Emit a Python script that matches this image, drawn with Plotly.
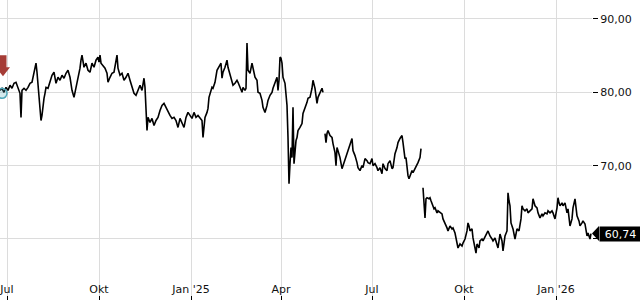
import plotly.graph_objects as go

# ---------------- data (closing prices) ----------------
dates_2024 = [
    "2024-06-24", "2024-06-26", "2024-06-28", "2024-06-30",
    "2024-07-02", "2024-07-04", "2024-07-06", "2024-07-08", "2024-07-10", "2024-07-12", "2024-07-14", "2024-07-15",
    "2024-07-16", "2024-07-18", "2024-07-20", "2024-07-22", "2024-07-24", "2024-07-26", "2024-07-28", "2024-07-29",
    "2024-07-30", "2024-07-31",
    "2024-08-01", "2024-08-02", "2024-08-03", "2024-08-04", "2024-08-05", "2024-08-06", "2024-08-07", "2024-08-08",
    "2024-08-09", "2024-08-11", "2024-08-13", "2024-08-15", "2024-08-17", "2024-08-19", "2024-08-21", "2024-08-23",
    "2024-08-25", "2024-08-27", "2024-08-29", "2024-08-31",
    "2024-09-02", "2024-09-04", "2024-09-06", "2024-09-08", "2024-09-10", "2024-09-12", "2024-09-13", "2024-09-14",
    "2024-09-16", "2024-09-18", "2024-09-20", "2024-09-22", "2024-09-24", "2024-09-26", "2024-09-28", "2024-09-30",
    "2024-10-01", "2024-10-02", "2024-10-03", "2024-10-05", "2024-10-07", "2024-10-09", "2024-10-10", "2024-10-12",
    "2024-10-14", "2024-10-16", "2024-10-18", "2024-10-19", "2024-10-20", "2024-10-22", "2024-10-24", "2024-10-26",
    "2024-10-28", "2024-10-30",
    "2024-11-01", "2024-11-03", "2024-11-05", "2024-11-07", "2024-11-09", "2024-11-11", "2024-11-13", "2024-11-15",
    "2024-11-16", "2024-11-17", "2024-11-18", "2024-11-19", "2024-11-21", "2024-11-23", "2024-11-25", "2024-11-27",
    "2024-11-29",
    "2024-12-01", "2024-12-03", "2024-12-05", "2024-12-07", "2024-12-09", "2024-12-11", "2024-12-13", "2024-12-15",
    "2024-12-17", "2024-12-19", "2024-12-21", "2024-12-23", "2024-12-25", "2024-12-27", "2024-12-29", "2024-12-31",
]
close_2024 = [
    80.27, 80.55, 80.00, 80.68,
    80.27, 80.96, 80.55, 81.23, 81.37, 80.68, 79.86, 76.58,
    80.27, 80.55, 80.27, 80.68, 81.23, 81.37, 82.74, 83.70,
    83.97, 82.74,
    81.23, 79.86, 77.26, 76.16, 76.85, 78.22, 79.18, 79.86,
    80.68, 80.55, 81.64, 82.33, 82.74, 81.23, 82.05, 81.64,
    82.33, 81.92, 82.60, 83.01,
    82.05, 80.27, 79.32, 80.55, 82.05, 83.29, 84.38, 85.07,
    83.42, 83.97, 83.01, 82.74, 83.97, 83.42, 84.38, 84.79,
    84.11, 85.07, 83.97, 83.70, 83.29, 82.60, 81.37, 82.05,
    82.60, 82.74, 84.11, 85.07, 83.29, 82.33, 82.60, 81.64,
    82.05, 82.60,
    81.64, 80.68, 79.86, 79.59, 80.27, 80.96, 80.27, 81.92,
    80.68, 77.26, 74.79, 76.58, 75.89, 76.44, 75.48, 76.16,
    76.58,
    77.53, 78.22, 78.49, 77.95, 77.26, 76.85, 76.44, 76.58,
    76.16, 75.21, 76.44, 75.89, 75.21, 76.58, 77.26, 76.85,
]

dates_2025a = [
    "2025-01-02", "2025-01-04", "2025-01-06", "2025-01-08", "2025-01-10", "2025-01-12", "2025-01-13", "2025-01-14",
    "2025-01-15", "2025-01-17", "2025-01-18", "2025-01-19", "2025-01-21", "2025-01-22", "2025-01-23", "2025-01-25",
    "2025-01-27", "2025-01-28", "2025-01-30", "2025-01-31",
    "2025-02-01", "2025-02-02", "2025-02-04", "2025-02-06", "2025-02-07", "2025-02-09", "2025-02-11", "2025-02-12",
    "2025-02-14", "2025-02-16", "2025-02-17", "2025-02-19", "2025-02-21", "2025-02-22", "2025-02-24", "2025-02-25",
    "2025-02-26", "2025-02-27",
    "2025-03-01", "2025-03-03", "2025-03-04", "2025-03-06", "2025-03-08", "2025-03-09", "2025-03-11", "2025-03-13",
    "2025-03-14", "2025-03-16", "2025-03-18", "2025-03-19", "2025-03-21", "2025-03-23", "2025-03-24", "2025-03-26",
    "2025-03-28", "2025-03-29", "2025-03-30", "2025-03-31",
    "2025-04-01", "2025-04-02", "2025-04-03", "2025-04-05", "2025-04-06", "2025-04-07", "2025-04-08", "2025-04-09",
    "2025-04-10", "2025-04-11", "2025-04-12", "2025-04-13", "2025-04-14", "2025-04-15", "2025-04-16", "2025-04-17",
    "2025-04-18", "2025-04-20", "2025-04-22", "2025-04-23", "2025-04-25", "2025-04-27", "2025-04-28", "2025-04-30",
    "2025-05-02", "2025-05-03", "2025-05-05", "2025-05-07", "2025-05-08", "2025-05-10", "2025-05-12", "2025-05-13",
]
close_2025a = [
    76.44, 77.26, 76.58, 76.85, 76.44, 76.16, 73.84, 75.48,
    76.58, 77.26, 77.81, 79.32, 80.27, 80.68, 80.55, 81.37,
    83.01, 83.29, 83.70, 83.97,
    81.92, 82.74, 83.42, 84.38, 83.42, 82.33, 81.64, 80.96,
    81.23, 81.64, 81.37, 80.68, 80.00, 80.68, 80.27, 80.55,
    86.71, 83.01,
    82.60, 83.97, 83.42, 82.05, 81.64, 80.00, 79.86, 78.90,
    77.95, 77.26, 78.22, 78.90, 79.59, 80.00, 80.55, 81.23,
    82.05, 80.27, 81.64, 84.79,
    84.66, 83.97, 82.05, 81.23, 79.32, 78.22, 73.84, 67.53,
    70.27, 72.47, 71.10, 77.95, 70.27, 72.05, 73.42, 73.84,
    74.79, 75.21, 75.75, 77.12, 77.81, 78.63, 79.18, 79.32,
    80.55, 81.64, 80.55, 78.49, 79.32, 80.00, 80.55, 80.00,
]

dates_2025b = [
    "2025-05-15", "2025-05-16", "2025-05-17", "2025-05-18", "2025-05-20", "2025-05-22", "2025-05-23", "2025-05-25",
    "2025-05-26", "2025-05-27", "2025-05-28", "2025-05-30",
    "2025-06-01", "2025-06-02", "2025-06-04", "2025-06-06", "2025-06-07", "2025-06-09", "2025-06-11", "2025-06-12",
    "2025-06-14", "2025-06-16", "2025-06-17", "2025-06-19", "2025-06-21", "2025-06-22", "2025-06-24", "2025-06-26",
    "2025-06-27", "2025-06-29",
    "2025-07-01", "2025-07-02", "2025-07-04", "2025-07-06", "2025-07-07", "2025-07-09", "2025-07-11", "2025-07-12",
    "2025-07-14", "2025-07-16", "2025-07-17", "2025-07-19", "2025-07-21", "2025-07-22", "2025-07-24", "2025-07-26",
    "2025-07-27", "2025-07-29", "2025-07-31",
    "2025-08-01", "2025-08-02", "2025-08-03", "2025-08-04", "2025-08-05", "2025-08-06", "2025-08-07", "2025-08-09",
    "2025-08-10", "2025-08-11", "2025-08-13", "2025-08-15", "2025-08-16", "2025-08-18", "2025-08-19",
]
close_2025b = [
    74.38, 73.15, 74.38, 74.79, 74.11, 73.84, 73.01, 71.78,
    70.00, 72.47, 72.05, 71.10,
    69.59, 70.00, 70.96, 71.64, 72.33, 73.01, 73.70, 72.05,
    71.37, 70.41, 69.73, 69.32, 70.00, 69.73, 70.96, 70.68,
    70.41, 70.27,
    70.96, 70.00, 70.27, 69.73, 69.32, 69.73, 68.90, 70.27,
    69.59, 69.32, 70.27, 70.68, 69.59, 69.73, 71.64, 72.47,
    73.15, 73.70, 74.11,
    73.15, 72.05, 70.96, 71.10, 69.59, 68.63, 68.22, 69.04,
    69.32, 69.04, 69.59, 70.00, 70.41, 71.10, 72.33,
]

dates_2025c = [
    "2025-08-21", "2025-08-22", "2025-08-23", "2025-08-24", "2025-08-25", "2025-08-27", "2025-08-28", "2025-08-29",
    "2025-08-31",
    "2025-09-01", "2025-09-02", "2025-09-04", "2025-09-05", "2025-09-07", "2025-09-09", "2025-09-10", "2025-09-12",
    "2025-09-14", "2025-09-15", "2025-09-17", "2025-09-19", "2025-09-20", "2025-09-22", "2025-09-24", "2025-09-25",
    "2025-09-27", "2025-09-29", "2025-09-30",
    "2025-10-02", "2025-10-04", "2025-10-05", "2025-10-06", "2025-10-07", "2025-10-09", "2025-10-10", "2025-10-12",
    "2025-10-13", "2025-10-14", "2025-10-16", "2025-10-17", "2025-10-19", "2025-10-20", "2025-10-22", "2025-10-24",
    "2025-10-25", "2025-10-27", "2025-10-29", "2025-10-30",
    "2025-11-01", "2025-11-03", "2025-11-04", "2025-11-06", "2025-11-08", "2025-11-09", "2025-11-11", "2025-11-13",
    "2025-11-14", "2025-11-15", "2025-11-16", "2025-11-17", "2025-11-18", "2025-11-19", "2025-11-21", "2025-11-22",
    "2025-11-23", "2025-11-25", "2025-11-26", "2025-11-27", "2025-11-28", "2025-11-29",
    "2025-12-01", "2025-12-03", "2025-12-04", "2025-12-06", "2025-12-08", "2025-12-09", "2025-12-11", "2025-12-13",
    "2025-12-14", "2025-12-16", "2025-12-18", "2025-12-19", "2025-12-21", "2025-12-23", "2025-12-24", "2025-12-26",
    "2025-12-28", "2025-12-29", "2025-12-31",
    "2026-01-02", "2026-01-03", "2026-01-04", "2026-01-05", "2026-01-07", "2026-01-08", "2026-01-10", "2026-01-12",
    "2026-01-13", "2026-01-15", "2026-01-17", "2026-01-18", "2026-01-20", "2026-01-21", "2026-01-22", "2026-01-24",
    "2026-01-25", "2026-01-27", "2026-01-28", "2026-01-30",
    "2026-02-01", "2026-02-02", "2026-02-04", "2026-02-05",
]
close_2025c = [
    66.99, 65.21, 62.88, 65.48, 65.62, 65.48, 65.62, 65.21,
    64.52,
    64.11, 64.25, 63.56, 63.84, 63.56, 63.42, 62.74, 62.19,
    61.51, 61.10, 61.78, 61.37, 61.51, 60.82, 59.73, 58.77,
    59.32, 59.04, 59.45,
    60.00, 61.10, 62.19, 61.78, 61.10, 61.37, 60.14, 58.77,
    58.08, 59.32, 58.77, 59.73, 60.00, 59.73, 60.41, 60.82,
    61.10, 60.41, 60.00, 59.73,
    60.14, 59.32, 58.77, 60.68, 59.73, 58.36, 60.41, 61.10,
    66.30, 65.21, 64.52, 62.19, 61.78, 61.37, 60.00, 60.82,
    61.37, 61.10, 62.05, 62.74, 64.52, 64.11,
    63.84, 64.11, 63.56, 63.84, 64.11, 65.48, 64.52, 64.25,
    63.56, 62.88, 63.42, 63.15, 63.56, 63.42, 63.84, 63.56,
    63.84, 63.56, 62.74,
    64.25, 65.62, 64.93, 64.52, 64.93, 64.52, 64.93, 63.56,
    64.11, 61.78, 62.74, 64.25, 65.48, 63.84, 63.15, 62.47,
    61.78, 62.19, 62.47, 62.05,
    60.41, 60.82, 60.00, 60.74,
]

last_price = 60.74
last_label = "60,74"

x_tick_dates = ["2024-07-01", "2024-10-01", "2025-01-01", "2025-04-01",
                "2025-07-01", "2025-10-01", "2026-01-01"]
x_tick_labels = ["Jul", "Okt", "Jan '25", "Apr", "Jul", "Okt", "Jan '26"]
y_tick_values = [60, 70, 80, 90]
y_tick_labels = ["", "70,00", "80,00", "90,00"]

event_date = "2024-06-27"
event_price = 79.86

# ---------------- figure ----------------
segments = [
    (dates_2024 + dates_2025a, close_2024 + close_2025a),
    (dates_2025b, close_2025b),
    (dates_2025c, close_2025c),
]

fig = go.Figure()
for xs, ys in segments:
    fig.add_trace(go.Scatter(
        x=xs, y=ys, mode="lines",
        line=dict(color="#000000", width=1.6),
        hoverinfo="skip", showlegend=False,
    ))

FONT = "DejaVu Sans, Verdana, sans-serif"
GRID = "#dcdcdc"

fig.update_layout(
    width=640, height=300,
    margin=dict(l=0, r=48, t=0, b=0),
    paper_bgcolor="white", plot_bgcolor="white",
    font=dict(family=FONT, size=11, color="#111111"),
    showlegend=False,
    separators=",.",
)

fig.update_xaxes(
    type="date",
    range=["2024-06-24", "2026-02-06"],
    tickmode="array", tickvals=x_tick_dates, ticktext=x_tick_labels,
    ticks="inside", ticklen=4, tickwidth=1, tickcolor="#000000",
    ticklabelposition="inside", ticklabeloverflow="allow",
    tickfont=dict(family=FONT, size=11, color="#111111"),
    showgrid=True, gridcolor=GRID, gridwidth=1,
    zeroline=False, showline=False, fixedrange=True,
)

fig.update_yaxes(
    side="right",
    range=[51.68, 92.59],
    tickmode="array", tickvals=y_tick_values, ticktext=y_tick_labels,
    ticks="outside", ticklen=5, tickwidth=1, tickcolor="#000000",
    tickfont=dict(family=FONT, size=11, color="#111111"),
    showgrid=True, gridcolor=GRID, gridwidth=1,
    zeroline=False, showline=False, fixedrange=True,
)

shapes = [
    # white band behind the date labels (hides grid there)
    dict(type="rect", xref="paper", yref="paper", x0=0, x1=1, y0=0, y1=0.064,
         fillcolor="white", line=dict(width=0), layer="between"),
    # event marker: red down arrow
    dict(type="path", xref="x", yref="y", xsizemode="pixel", xanchor=event_date,
         path="M-3.5,85.05 L3.5,85.05 L3.5,83.41 L7,83.41 L0,82.18 L-7,83.41 L-3.5,83.41 Z",
         fillcolor="#a53c36", line=dict(width=0), layer="above"),
    # event marker: teal circle on the line
    dict(type="circle", xref="x", yref="y", xsizemode="pixel", ysizemode="pixel",
         xanchor="2024-06-26", yanchor=event_price, x0=-5, x1=5, y0=-5, y1=5,
         fillcolor="rgba(80,168,185,0.25)", line=dict(color="#4fa6b8", width=1.5),
         layer="above"),
    # pointer of the last-price label
    dict(type="path", xref="paper", yref="y", xsizemode="pixel", ysizemode="pixel",
         xanchor=1, yanchor=last_price, path="M0,0 L7,-7.5 L7,7.5 Z",
         fillcolor="#000000", line=dict(width=0), layer="above"),
]
fig.update_layout(shapes=shapes)

fig.add_annotation(
    xref="paper", yref="y", x=1, y=last_price, xanchor="left", yanchor="middle",
    xshift=7, text=last_label, showarrow=False,
    bgcolor="#000000", width=41, height=14, borderpad=0,
    font=dict(family=FONT, size=11, color="#ffffff"),
)

fig.write_html("out.html")
